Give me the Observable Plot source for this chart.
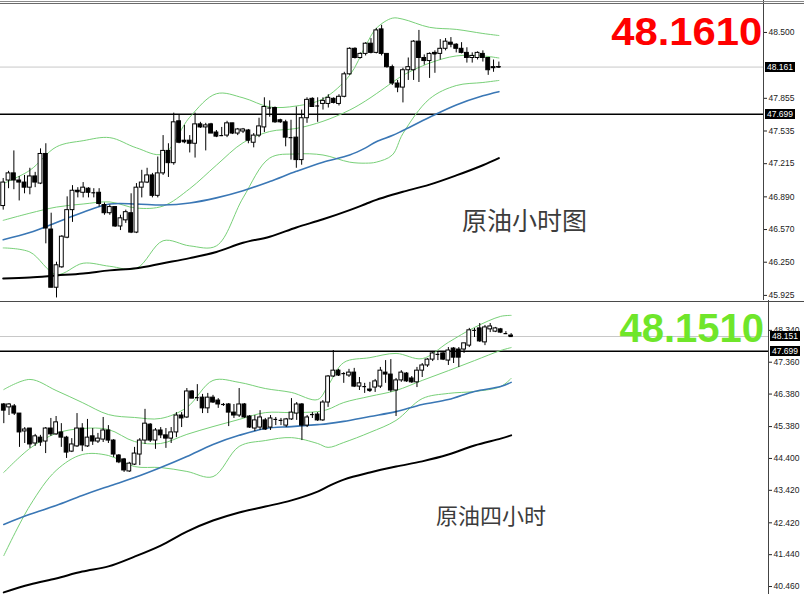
<!DOCTYPE html>
<html><head><meta charset="utf-8">
<script src="https://cdn.jsdelivr.net/npm/d3@7"></script>
<script src="https://cdn.jsdelivr.net/npm/@observablehq/plot@0.6"></script>
<style>
body{margin:0;background:#fff;}
#wrap{position:relative;width:804px;height:594px;overflow:hidden;background:#fff;}
.tag{position:absolute;background:#000;color:#fff;font:8.5px "Liberation Sans",sans-serif;line-height:10px;height:10px;width:30px;padding-left:2px;box-sizing:border-box;}
.big{position:absolute;font-family:"Liberation Sans",Arial,sans-serif;font-weight:bold;line-height:1;white-space:nowrap;}
.cn{position:absolute;font-family:"Noto Sans CJK SC",sans-serif;color:#3c3c3c;line-height:1;white-space:nowrap;}
.hl{position:absolute;left:0;width:804px;}
</style></head><body><div id="wrap"></div>
<script>
// ---------- top panel (1 hour) ----------
const topOpen=[46.80,47.05,47.12,47.05,47.03,46.98,47.09,47.02,47.31,46.57,46.00,46.20,46.49,46.76,46.95,46.93,46.97,46.93,46.93,46.81,46.73,46.79,46.60,46.66,46.73,46.54,46.98,47.03,47.10,46.90,47.12,47.34,47.22,47.63,47.44,47.44,47.41,47.60,47.57,47.60,47.52,47.49,47.49,47.61,47.51,47.53,47.54,47.42,47.49,47.57,47.76,47.76,47.64,47.62,47.47,47.47,47.25,47.66,47.85,47.78,47.80,47.80,47.85,47.80,47.87,48.09,48.34,48.25,48.29,48.39,48.30,48.53,48.29,48.16,48.00,47.96,48.13,48.13,48.41,48.25,48.22,48.30,48.29,48.34,48.40,48.38,48.34,48.30,48.25,48.25,48.29,48.25,48.15,48.16];
const topHigh=[47.07,47.14,47.34,47.09,47.10,47.17,47.13,47.36,47.41,46.73,46.25,46.51,46.89,47.00,46.98,47.03,46.98,46.97,46.97,46.83,46.81,46.79,46.71,46.76,46.92,47.02,47.15,47.17,47.12,47.28,47.49,47.41,47.71,47.69,47.59,47.49,47.71,47.62,47.61,47.61,47.54,47.57,47.63,47.61,47.56,47.56,47.55,47.51,47.66,47.86,47.83,47.77,47.65,47.64,47.64,47.77,47.74,47.86,47.86,47.86,47.86,47.89,47.86,47.89,48.11,48.35,48.35,48.30,48.40,48.44,48.54,48.57,48.29,48.18,48.03,48.15,48.25,48.42,48.52,48.28,48.30,48.32,48.43,48.44,48.45,48.39,48.40,48.35,48.30,48.31,48.32,48.25,48.23,48.21];
const topLow=[46.76,46.97,46.96,46.85,46.92,46.91,46.98,47.01,46.43,46.00,45.90,46.19,46.48,46.64,46.88,46.88,46.88,46.88,46.79,46.71,46.71,46.59,46.56,46.63,46.53,46.53,46.88,47.02,46.88,46.88,47.10,47.08,47.20,47.41,47.41,47.32,47.27,47.56,47.34,47.51,47.47,47.48,47.47,47.50,47.49,47.51,47.41,47.37,47.47,47.52,47.67,47.61,47.61,47.38,47.25,47.17,47.20,47.61,47.77,47.62,47.74,47.76,47.80,47.78,47.86,48.08,48.24,48.24,48.27,48.29,48.29,48.27,48.15,47.98,47.91,47.81,48.03,48.03,48.01,48.18,48.05,48.10,48.23,48.32,48.35,48.30,48.29,48.20,48.20,48.23,48.21,48.08,48.11,48.15];
const topClose=[47.03,47.12,47.05,47.03,46.98,47.09,47.03,47.31,46.58,46.00,46.22,46.50,46.76,46.95,46.94,46.98,46.93,46.93,46.82,46.73,46.79,46.60,46.68,46.74,46.54,46.98,47.03,47.10,46.90,47.12,47.34,47.22,47.62,47.42,47.43,47.41,47.60,47.57,47.59,47.51,47.48,47.49,47.61,47.51,47.55,47.55,47.44,47.49,47.58,47.77,47.76,47.62,47.62,47.47,47.47,47.25,47.66,47.84,47.77,47.78,47.83,47.86,47.81,47.87,48.09,48.34,48.25,48.29,48.39,48.30,48.52,48.29,48.16,48.00,47.96,48.13,48.16,48.41,48.25,48.22,48.29,48.29,48.34,48.41,48.38,48.34,48.30,48.25,48.27,48.30,48.25,48.13,48.16,48.161];
const topLineIdx=[0,5,10,15,20,25,30,35,40,45,50,55,60,65,68,70,73,75,80,85,90,93];
const topUpper=[47.02,47.15,47.38,47.44,47.47,47.37,47.31,47.67,47.90,47.86,47.77,47.78,47.85,48.08,48.37,48.54,48.64,48.63,48.55,48.53,48.49,48.47];
const topMiddle=[46.66,46.73,46.79,46.82,46.84,46.78,46.80,46.97,47.20,47.42,47.53,47.56,47.63,47.74,47.83,47.90,48.01,48.08,48.20,48.27,48.27,48.25];
const topLower=[46.39,46.35,46.13,46.24,46.21,46.19,46.46,46.41,46.41,46.88,47.27,47.31,47.30,47.23,47.22,47.23,47.30,47.51,47.85,47.98,48.01,48.03];
const topMaBlue=[46.47,46.54,46.64,46.74,46.82,46.82,46.81,46.83,46.88,46.95,47.04,47.14,47.23,47.30,47.37,47.43,47.49,47.54,47.67,47.79,47.88,47.92];
const topMaBlack=[46.09,46.10,46.12,46.14,46.17,46.19,46.24,46.29,46.35,46.44,46.50,46.59,46.67,46.76,46.82,46.86,46.91,46.94,47.01,47.10,47.20,47.27];
const topTicks=[48.500,47.855,47.535,47.215,46.890,46.570,46.250,45.925];
const topLast=48.161, topLevel=47.699;

// ---------- bottom panel (4 hour) ----------
const botOpen=[46.06,45.97,46.00,45.78,45.23,45.32,44.86,45.04,44.92,45.32,45.14,45.20,45.04,44.61,44.77,45.32,44.77,45.08,44.92,44.98,45.26,44.95,44.49,44.37,44.00,44.21,44.52,44.95,45.44,44.95,45.26,45.11,45.01,45.20,45.72,45.66,46.46,46.27,46.27,45.94,46.27,46.18,46.06,46.06,45.81,45.72,46.06,45.69,45.32,45.35,45.57,45.35,45.60,45.57,45.41,45.60,45.78,46.06,45.41,45.75,45.75,45.57,46.12,46.92,47.10,47.01,46.95,47.04,46.61,46.61,46.52,46.58,46.61,47.04,46.98,46.49,46.80,47.01,46.86,46.74,47.10,47.26,47.44,47.60,47.63,47.41,47.78,47.75,47.75,47.87,48.34,48.40,47.97,48.37,48.30,48.37,48.24,48.18];
const botHigh=[46.09,46.09,46.06,45.78,45.35,45.32,45.14,45.11,45.35,45.63,45.69,45.47,45.08,45.01,45.78,45.47,45.60,45.32,45.17,45.66,45.41,44.98,44.52,44.40,44.28,44.74,45.01,45.91,45.47,45.32,45.35,45.32,45.35,45.81,45.81,46.55,46.49,46.67,46.37,46.40,46.34,46.24,46.09,46.09,46.06,46.55,46.09,45.72,45.72,45.87,45.63,45.72,45.66,45.63,45.63,46.24,46.12,46.09,45.72,45.81,45.81,46.18,46.95,47.72,47.14,47.04,47.14,47.17,46.89,46.71,46.74,46.83,47.20,47.41,47.44,46.86,47.10,47.04,46.92,47.20,47.32,47.47,47.69,47.66,47.66,47.81,47.81,47.81,47.94,48.40,48.40,48.55,48.49,48.55,48.43,48.40,48.30,48.24];
const botLow=[45.47,45.72,45.72,44.74,44.86,44.71,44.77,44.77,44.55,45.08,45.11,44.74,44.40,44.58,44.74,44.61,44.74,44.80,44.86,44.89,44.86,44.43,44.24,43.97,43.97,44.18,44.18,44.83,44.89,44.68,45.01,44.71,44.86,45.04,45.35,45.63,46.24,46.15,45.78,45.78,46.09,45.94,46.00,45.38,45.63,45.66,45.63,45.32,45.23,45.26,45.26,45.26,45.41,45.41,45.35,45.57,45.57,44.95,45.35,45.63,45.54,45.54,45.97,46.89,46.92,46.71,46.89,46.58,46.49,46.40,46.43,46.43,46.55,46.71,46.43,45.69,46.74,46.74,46.71,46.58,46.89,47.20,47.38,47.41,47.41,47.26,47.32,47.20,47.63,47.81,48.12,47.97,47.87,48.27,48.27,48.24,48.21,48.15];
const botClose=[45.87,46.06,45.78,45.20,45.29,44.83,45.08,44.89,45.32,45.14,45.51,45.04,44.58,44.83,45.32,44.80,45.04,44.92,45.01,45.26,44.95,44.52,44.28,44.03,44.24,44.55,44.95,45.47,44.95,45.26,45.11,45.01,45.20,45.72,45.63,46.46,46.24,46.27,45.94,46.27,46.12,46.06,46.06,45.81,45.72,46.06,45.66,45.35,45.57,45.66,45.29,45.63,45.60,45.57,45.60,45.81,46.06,45.41,45.66,45.75,45.57,46.12,46.92,47.10,46.95,47.01,47.04,46.61,46.71,46.61,46.49,46.77,47.10,46.98,46.49,46.80,47.04,46.77,46.74,47.10,47.26,47.44,47.63,47.60,47.44,47.72,47.50,47.50,47.94,48.34,48.34,48.00,48.43,48.46,48.40,48.27,48.24,48.151];
const botLineIdx=[0,5,10,15,20,25,30,35,40,45,50,55,60,62,65,70,75,80,85,90,95,97];
const botUpper=[46.52,46.83,46.49,46.12,45.75,45.66,45.63,45.97,46.80,46.74,46.55,46.43,46.21,46.64,47.35,47.50,47.63,47.47,47.97,48.43,48.77,48.80];
const botMiddle=[43.97,44.71,45.17,45.32,45.29,44.92,44.86,45.14,45.38,45.60,45.81,45.81,45.84,45.91,46.12,46.31,46.49,46.80,47.10,47.41,47.72,47.81];
const botLower=[41.41,42.95,44.03,44.52,44.49,44.15,44.12,44.00,43.84,44.77,44.95,45.04,44.86,44.74,44.89,45.20,45.57,46.24,46.40,46.46,46.61,46.86];
const botMaBlue=[42.37,42.68,42.95,43.26,43.54,43.81,44.12,44.46,44.83,45.11,45.32,45.38,45.44,45.47,45.54,45.69,45.84,46.06,46.21,46.46,46.61,46.74];
const botMaBlack=[40.28,40.52,40.71,40.92,41.08,41.38,41.72,42.15,42.49,42.74,42.92,43.11,43.38,43.54,43.75,43.97,44.15,44.31,44.52,44.80,45.01,45.11];
const botTicks=[48.340,47.360,46.380,45.380,44.400,43.420,42.420,41.440,40.460];
const botLast=48.151, botLevel=47.699;

const GREEN="#78d078", BLUE="#3a77b5";

function panel(cfg){
  const bars=d3.range(cfg.open.length).map(i=>({i,o:cfg.open[i],h:cfg.high[i],l:cfg.low[i],c:cfg.close[i]}));
  const ln=cfg.idx.map((x,k)=>({x,up:cfg.upper[k],mid:cfg.middle[k],lo:cfg.lower[k],b:cfg.blue[k],k:cfg.black[k]}));
  const bw=0.36;
  return Plot.plot({
    width:804,height:cfg.height,marginLeft:0,marginRight:cfg.marginRight,marginTop:0,marginBottom:0,
    x:{type:"linear",domain:cfg.xDomain,axis:null},
    y:{domain:cfg.yDomain,axis:"right",ticks:cfg.ticks,tickFormat:d=>d.toFixed(3),tickSize:3,tickPadding:2,label:null},
    style:{background:"transparent",fontFamily:"Liberation Sans, sans-serif",fontSize:"8.5px",color:"#222",overflow:"visible"},
    marks:[
      Plot.ruleY([cfg.last],{stroke:"#c8c8c8",strokeWidth:1}),
      Plot.ruleY([cfg.level],{stroke:"#000",strokeWidth:1.6}),
      Plot.line(ln,{x:"x",y:"up",stroke:GREEN,strokeWidth:1,curve:"catmull-rom"}),
      Plot.line(ln,{x:"x",y:"mid",stroke:GREEN,strokeWidth:1,curve:"catmull-rom"}),
      Plot.line(ln,{x:"x",y:"lo",stroke:GREEN,strokeWidth:1,curve:"catmull-rom"}),
      Plot.line(ln,{x:"x",y:"b",stroke:BLUE,strokeWidth:1.6,curve:"catmull-rom"}),
      Plot.line(ln,{x:"x",y:"k",stroke:"#000",strokeWidth:2,curve:"catmull-rom"}),
      Plot.ruleX(bars,{x:"i",y1:"l",y2:"h",stroke:"#000",strokeWidth:1}),
      Plot.rect(bars,{x1:d=>d.i-bw,x2:d=>d.i+bw,y1:"o",y2:"c",fill:d=>d.c>=d.o?"#fff":"#000",stroke:"#000",strokeWidth:1}),
      Plot.ruleY(bars.filter(d=>Math.abs(d.c-d.o)<cfg.doji),{x1:d=>d.i-bw,x2:d=>d.i+bw,y:"c",stroke:"#000",strokeWidth:1.2}),
      Plot.ruleX([cfg.xDomain[1]],{stroke:"#444",strokeWidth:1})
    ]
  });
}

const wrap=document.getElementById("wrap");
function place(el,top){el.style.position="absolute";el.style.left="0px";el.style.top=top+"px";wrap.appendChild(el);}
function div(cls,text,css){const d=document.createElement("div");d.className=cls;d.textContent=text;Object.assign(d.style,css);wrap.appendChild(d);return d;}

const topChart=panel({open:topOpen,high:topHigh,low:topLow,close:topClose,idx:topLineIdx,upper:topUpper,middle:topMiddle,lower:topLower,blue:topMaBlue,black:topMaBlack,
  ticks:topTicks,last:topLast,level:topLevel,height:300,marginRight:41,xDomain:[-0.507,142.65],yDomain:[45.875,48.813],doji:0.012});
place(topChart,0);
const botChart=panel({open:botOpen,high:botHigh,low:botLow,close:botClose,idx:botLineIdx,upper:botUpper,middle:botMiddle,lower:botLower,blue:botMaBlue,black:botMaBlack,
  ticks:botTicks,last:botLast,level:botLevel,height:294,marginRight:36,xDomain:[-0.631,146.21],yDomain:[40.215,49.258],doji:0.04});
place(botChart,300);

// borders
div("hl","",{top:"1px",height:"1px",background:"#8a8a8a"});
div("hl","",{top:"3px",height:"1px",background:"#6a6a6a"});
div("hl","",{top:"301px",height:"1px",background:"#4a4a4a"});

// price tags
function tags(chart,top,vals){
  const ax=chart.scale("x").apply(chart.scale("x").domain[1]);
  vals.forEach(v=>{div("tag",v.toFixed(3),{left:(ax+2)+"px",top:(top+chart.scale("y").apply(v)-5)+"px"});});
}
tags(topChart,0,[topLast,topLevel]);
tags(botChart,300,[botLast,botLevel]);

// big price labels
div("big",topLast.toFixed(4),{right:(804-762)+"px",top:"13px",fontSize:"38px",color:"#ff0000",transform:"scaleX(1.1)",transformOrigin:"right center"});
div("big",botLast.toFixed(4),{right:(804-764)+"px",top:"308px",fontSize:"40px",color:"#6fe62a"});

// chart names
div("cn","原油小时图",{left:"462px",top:"207px",fontSize:"25px"});
div("cn","原油四小时",{left:"436px",top:"503px",fontSize:"22px"});
</script></body></html>
